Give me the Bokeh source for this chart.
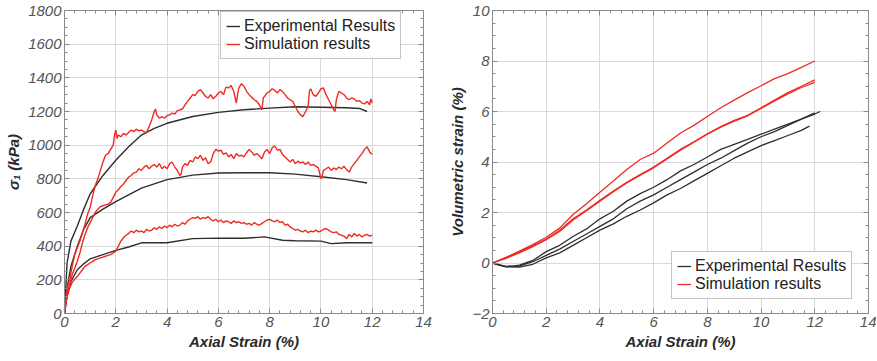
from bokeh.plotting import figure
from bokeh.layouts import row
from bokeh.models import LinearAxis, Legend, LegendItem, FixedTicker
from bokeh.embed import file_html
from bokeh.resources import INLINE

# ---------------- Left chart data: sigma1 vs axial strain ----------------
exp_top_x = [0, 0.1, 0.25, 0.5, 0.75, 1.0, 1.5, 2.0, 2.5, 3, 3.5, 4, 5, 6, 7, 8, 9, 10, 11, 11.5, 11.8]
exp_top_y = [0, 300, 430, 520, 620, 710, 820, 910, 990, 1060, 1100, 1130, 1170, 1195, 1210, 1220, 1228, 1225, 1222, 1218, 1200]

exp_mid_x = [0, 0.1, 0.25, 0.5, 0.75, 1.0, 1.5, 2, 3, 4, 5, 6, 7, 8, 9, 10, 11, 11.8]
exp_mid_y = [0, 150, 280, 400, 500, 570, 620, 665, 745, 795, 822, 835, 836, 836, 828, 812, 795, 775]

exp_low_x = [0, 0.1, 0.25, 0.5, 0.75, 1.0, 1.5, 2, 2.5, 3, 4, 5, 6, 7, 7.8, 8.5, 9, 10, 10.4, 11, 12]
exp_low_y = [0, 110, 190, 260, 295, 325, 350, 375, 395, 420, 420, 445, 448, 447, 455, 435, 432, 430, 415, 420, 420]

sim_top_x = [0, 0.05, 0.1, 0.2, 0.3, 0.4, 0.5, 0.6, 0.7, 0.8, 0.9, 1.0, 1.1, 1.2, 1.3, 1.4, 1.5, 1.6, 1.7, 1.8,
             1.9, 1.95, 2.0, 2.05, 2.1, 2.2, 2.3, 2.4, 2.5, 2.6, 2.7, 2.8, 2.9, 3.0, 3.1, 3.2, 3.3, 3.4, 3.5, 3.55,
             3.6, 3.7, 3.8, 3.9, 4.0, 4.1, 4.2, 4.3, 4.4, 4.5, 4.6, 4.7, 4.8, 4.9, 5.0, 5.1, 5.2, 5.3, 5.4, 5.5,
             5.6, 5.7, 5.8, 5.9, 6.0, 6.1, 6.2, 6.3, 6.4, 6.5, 6.6, 6.7, 6.75, 6.8, 6.9, 7.0, 7.1, 7.2, 7.3, 7.4,
             7.5, 7.6, 7.7, 7.75, 7.8, 7.9, 8.0, 8.1, 8.2, 8.3, 8.4, 8.5, 8.6, 8.7, 8.8, 8.9, 9.0, 9.1, 9.2, 9.3,
             9.4, 9.5, 9.55, 9.6, 9.7, 9.8, 9.9, 10.0, 10.1, 10.2, 10.3, 10.4, 10.5, 10.55, 10.6, 10.7, 10.8, 10.9,
             11.0, 11.1, 11.2, 11.3, 11.4, 11.5, 11.6, 11.7, 11.8, 11.9, 11.95, 12.0]
sim_top_y = [0, 90, 150, 200, 280, 350, 390, 430, 480, 530, 590, 630, 700, 760, 800, 850, 900, 940, 950, 975,
             1000, 1060, 1090, 1040, 1060, 1050, 1070, 1060, 1075, 1090, 1080, 1095, 1085, 1090, 1080, 1075, 1110, 1150, 1200, 1215,
             1180, 1160, 1170, 1160, 1175, 1180, 1190, 1185, 1205, 1210, 1215, 1240, 1260, 1280, 1300, 1295, 1320, 1330, 1310, 1290,
             1280, 1300, 1275, 1290, 1310, 1320, 1300, 1345, 1340, 1355, 1320, 1250, 1300, 1340, 1365, 1350, 1320, 1300, 1285, 1270,
             1260, 1240, 1210, 1280, 1290, 1310, 1320, 1335, 1325, 1310, 1330, 1320, 1300, 1280, 1270, 1260, 1230, 1200, 1180, 1170,
             1200, 1230, 1320, 1335, 1300, 1290, 1310, 1335, 1340, 1300, 1270, 1240, 1210, 1200, 1270, 1320, 1310, 1300,
             1280, 1270, 1280, 1275, 1260, 1265, 1250, 1245, 1260, 1240, 1275, 1250]

sim_mid_x = [0, 0.1, 0.2, 0.3, 0.4, 0.5, 0.6, 0.7, 0.8, 0.9, 1.0, 1.1, 1.2, 1.3, 1.4, 1.5, 1.6, 1.7, 1.8, 1.9,
             2.0, 2.1, 2.2, 2.3, 2.4, 2.5, 2.6, 2.7, 2.8, 2.9, 3.0, 3.1, 3.2, 3.3, 3.4, 3.5, 3.6, 3.7, 3.8, 3.9,
             4.0, 4.1, 4.2, 4.3, 4.4, 4.5, 4.55, 4.6, 4.7, 4.8, 4.9, 5.0, 5.1, 5.2, 5.3, 5.4, 5.5, 5.6, 5.7, 5.8,
             5.9, 6.0, 6.1, 6.2, 6.3, 6.4, 6.5, 6.6, 6.7, 6.8, 6.9, 7.0, 7.1, 7.2, 7.3, 7.4, 7.5, 7.6, 7.7, 7.8,
             7.9, 8.0, 8.1, 8.2, 8.3, 8.4, 8.5, 8.6, 8.7, 8.8, 8.9, 9.0, 9.1, 9.2, 9.3, 9.4, 9.5, 9.6, 9.7, 9.8,
             9.9, 10.0, 10.05, 10.1, 10.2, 10.3, 10.4, 10.5, 10.6, 10.7, 10.8, 10.9, 11.0, 11.1, 11.2, 11.3, 11.4, 11.5,
             11.6, 11.7, 11.8, 11.9, 12.0]
sim_mid_y = [0, 100, 170, 230, 270, 310, 360, 420, 470, 510, 540, 570, 600, 620, 635, 640, 645, 650, 660, 690,
             720, 735, 755, 770, 790, 810, 820, 835, 840, 860, 850, 870, 880, 860, 875, 885, 870, 890, 860, 875,
             860, 890, 900, 870, 850, 820, 830, 870, 890, 880, 910, 900, 930, 920, 940, 910, 925, 890, 900, 950,
             975, 965, 970, 945, 955, 930, 945, 920, 950, 935, 940, 930, 955, 975, 960, 940, 950, 935, 920, 960,
             975, 950, 985, 995, 970, 975, 945, 930, 915, 900, 915, 890, 905, 895, 900, 885, 900, 880, 885, 875,
             865, 800, 820, 850, 860, 870, 850, 865, 855, 870, 860, 875, 855, 840, 870, 890, 910, 930,
             950, 975, 990, 960, 945]

sim_low_x = [0, 0.05, 0.1, 0.2, 0.3, 0.4, 0.5, 0.6, 0.7, 0.8, 0.9, 1.0, 1.1, 1.2, 1.3, 1.4, 1.5, 1.6, 1.7, 1.8,
             1.9, 2.0, 2.1, 2.2, 2.3, 2.4, 2.5, 2.6, 2.7, 2.8, 2.9, 3.0, 3.1, 3.2, 3.3, 3.4, 3.5, 3.6, 3.7, 3.8,
             3.9, 4.0, 4.1, 4.2, 4.3, 4.4, 4.5, 4.6, 4.7, 4.8, 4.9, 5.0, 5.1, 5.2, 5.3, 5.4, 5.5, 5.6, 5.7, 5.8,
             5.9, 6.0, 6.1, 6.2, 6.3, 6.4, 6.5, 6.6, 6.7, 6.8, 6.9, 7.0, 7.1, 7.2, 7.3, 7.4, 7.5, 7.6, 7.7, 7.8,
             7.9, 8.0, 8.1, 8.2, 8.3, 8.4, 8.5, 8.6, 8.7, 8.8, 8.9, 9.0, 9.1, 9.2, 9.3, 9.4, 9.5, 9.6, 9.7, 9.8,
             9.9, 10.0, 10.1, 10.2, 10.3, 10.4, 10.5, 10.6, 10.7, 10.8, 10.9, 11.0, 11.1, 11.2, 11.3, 11.4, 11.5, 11.6,
             11.7, 11.8, 11.9, 12.0]
sim_low_y = [0, 60, 100, 150, 185, 205, 220, 240, 260, 280, 290, 300, 310, 320, 325, 330, 335, 340, 345, 350,
             360, 370, 400, 430, 450, 465, 475, 490, 480, 495, 485, 490, 480, 500, 490, 495, 510, 500, 515, 505,
             520, 510, 525, 515, 530, 520, 525, 540, 530, 550, 560, 570, 565, 575, 560, 570, 565, 575, 560, 550,
             560, 545, 555, 540, 550, 545, 535, 550, 540, 545, 535, 540, 530, 535, 525, 540, 530, 525, 535, 545,
             555, 560, 550, 545, 555, 540, 545, 525, 530, 515, 505, 495, 500, 490, 485, 495, 480, 490, 485, 495,
             485, 490, 500, 505, 495, 485, 480, 485, 470, 465, 460, 445, 470, 455, 475, 460, 470, 455,
             465, 470, 460, 465]

# ---------------- Right chart data: volumetric strain vs axial strain ----------------
vs_x = [0, 0.5, 1, 1.5, 2, 2.5, 3, 3.5, 4, 4.5, 5, 5.5, 6, 6.5, 7, 7.5, 8, 8.5, 9, 9.5, 10, 10.5, 11, 11.5, 12]
vs_sim_top = [0, 0.22, 0.47, 0.73, 1.02, 1.38, 1.92, 2.35, 2.8, 3.25, 3.7, 4.1, 4.35, 4.75, 5.15, 5.45, 5.8, 6.15,
              6.45, 6.75, 7.02, 7.3, 7.5, 7.75, 8.0]
vs_sim_mid1 = [0, 0.2, 0.43, 0.68, 0.95, 1.3, 1.75, 2.1, 2.48, 2.85, 3.2, 3.5, 3.8, 4.15, 4.5, 4.8, 5.12, 5.4,
               5.65, 5.85, 6.15, 6.45, 6.75, 7.0, 7.25]
vs_sim_mid2 = [0, 0.18, 0.4, 0.65, 0.92, 1.25, 1.7, 2.07, 2.45, 2.82, 3.17, 3.48, 3.77, 4.12, 4.47, 4.78, 5.1, 5.38,
               5.62, 5.83, 6.12, 6.42, 6.7, 6.95, 7.15]

vs_exp_top_x = [0, 0.25, 0.5, 0.75, 1, 1.5, 2, 2.5, 3, 3.5, 4, 4.5, 5, 5.5, 6, 6.5, 7, 7.5, 8, 8.5, 9, 9.5, 10,
                10.5, 11, 11.5, 12, 12.2]
vs_exp_top_y = [0, -0.08, -0.13, -0.12, -0.08, 0.1, 0.45, 0.7, 1.05, 1.35, 1.75, 2.05, 2.45, 2.75, 3.0, 3.3, 3.65,
                3.9, 4.2, 4.5, 4.7, 4.9, 5.1, 5.3, 5.5, 5.7, 5.9, 6.0]
vs_exp_mid_x = [0, 0.5, 1, 1.5, 2, 2.5, 3, 3.5, 4, 4.5, 5, 5.5, 6, 6.5, 7, 7.5, 8, 8.5, 9, 9.5, 10, 10.5, 11, 11.5, 12]
vs_exp_mid_y = [0, -0.14, -0.12, 0.05, 0.3, 0.55, 0.85, 1.15, 1.45, 1.75, 2.15, 2.45, 2.7, 3.0, 3.3, 3.6, 3.9, 4.15,
                4.45, 4.75, 5.0, 5.2, 5.45, 5.7, 5.95]
vs_exp_low_x = [0, 0.5, 1, 1.5, 2, 2.5, 3, 3.5, 4, 4.5, 5, 5.5, 6, 6.5, 7, 7.5, 8, 8.5, 9, 9.5, 10, 10.5, 11, 11.5, 11.8]
vs_exp_low_y = [0, -0.15, -0.16, -0.05, 0.2, 0.4, 0.7, 1.0, 1.3, 1.55, 1.85, 2.1, 2.38, 2.7, 2.95, 3.25, 3.55, 3.85,
                4.15, 4.4, 4.65, 4.85, 5.05, 5.25, 5.42]

x_ticks = [0, 2, 4, 6, 8, 10, 12, 14]
left_y_ticks = [0, 200, 400, 600, 800, 1000, 1200, 1400, 1600, 1800]
right_y_ticks = [-2, 0, 2, 4, 6, 8, 10]

BLACK = "#2e2e2e"
RED = "#ee2a24"
FONT = "Liberation Sans"
FRAME = "#8a8a8a"


def style(p, yticks, minor_y):
    p.xgrid.ticker = FixedTicker(ticks=x_ticks)
    p.ygrid.ticker = FixedTicker(ticks=yticks)
    p.grid.grid_line_color = "#d9d9d9"
    p.grid.grid_line_width = 1
    p.outline_line_color = FRAME
    p.outline_line_width = 1
    p.background_fill_color = "white"
    p.border_fill_color = "white"
    xminor = [x_ticks[0] + i * 0.4 for i in range(int((x_ticks[-1] - x_ticks[0]) / 0.4) + 1)]
    ystep = (yticks[1] - yticks[0]) / minor_y
    n = int(round((yticks[-1] - yticks[0]) / ystep))
    yminor = [yticks[0] + i * ystep for i in range(n + 1)]
    for ax, ticks, minor in ((p.xaxis[0], x_ticks, xminor), (p.yaxis[0], yticks, yminor)):
        ax.ticker = FixedTicker(ticks=ticks, minor_ticks=minor)
        ax.major_tick_in = 5
        ax.major_tick_out = 0
        ax.minor_tick_in = 3
        ax.minor_tick_out = 0
        ax.axis_line_color = FRAME
        ax.major_tick_line_color = FRAME
        ax.minor_tick_line_color = FRAME
        ax.major_label_text_font = FONT
        ax.major_label_text_font_style = "italic"
        ax.major_label_text_font_size = "15px"
        ax.major_label_text_color = "#555555"
        ax.major_label_standoff = 3
        ax.axis_label_text_font = FONT
        ax.axis_label_text_font_style = "bold italic"
        ax.axis_label_text_font_size = "15px"
        ax.axis_label_text_color = "#2a2a2a"
        ax.axis_label_standoff = 3
    # mirror axes on top and right with inward ticks only, no labels
    top = LinearAxis(ticker=FixedTicker(ticks=x_ticks, minor_ticks=xminor))
    right = LinearAxis(ticker=FixedTicker(ticks=yticks, minor_ticks=yminor))
    for ax in (top, right):
        ax.major_tick_in = 5
        ax.major_tick_out = 0
        ax.minor_tick_in = 3
        ax.minor_tick_out = 0
        ax.axis_line_color = FRAME
        ax.major_tick_line_color = FRAME
        ax.minor_tick_line_color = FRAME
        ax.major_label_text_color = None
        ax.major_label_standoff = 0
    p.add_layout(top, "above")
    p.add_layout(right, "right")


# ---------------- Left figure ----------------
p1 = figure(width=438, height=361, x_range=(0, 14), y_range=(0, 1800),
            output_backend="svg", toolbar_location=None,
            min_border_left=64, min_border_right=15, min_border_top=10, min_border_bottom=48)
p1.xaxis.axis_label = "Axial Strain (%)"
p1.yaxis.axis_label = "σ₁ (kPa)"
style(p1, left_y_ticks, 4)

e1 = p1.line(exp_top_x, exp_top_y, line_color=BLACK, line_width=1.4)
p1.line(exp_mid_x, exp_mid_y, line_color=BLACK, line_width=1.4)
p1.line(exp_low_x, exp_low_y, line_color=BLACK, line_width=1.4)
s1 = p1.line(sim_top_x, sim_top_y, line_color=RED, line_width=1.4)
p1.line(sim_mid_x, sim_mid_y, line_color=RED, line_width=1.4)
p1.line(sim_low_x, sim_low_y, line_color=RED, line_width=1.4)

# ---------------- Right figure ----------------
p2 = figure(width=438, height=361, x_range=(0, 14), y_range=(-2, 10),
            output_backend="svg", toolbar_location=None,
            min_border_left=54, min_border_right=8, min_border_top=10, min_border_bottom=48)
p2.xaxis.axis_label = "Axial Strain (%)"
p2.yaxis.axis_label = "Volumetric strain (%)"
style(p2, right_y_ticks, 4)

s2 = p2.line(vs_x, vs_sim_top, line_color=RED, line_width=1.3)
p2.line(vs_x, vs_sim_mid1, line_color=RED, line_width=1.3)
p2.line(vs_x, vs_sim_mid2, line_color=RED, line_width=1.3)
e2 = p2.line(vs_exp_top_x, vs_exp_top_y, line_color=BLACK, line_width=1.3)
p2.line(vs_exp_mid_x, vs_exp_mid_y, line_color=BLACK, line_width=1.3)
p2.line(vs_exp_low_x, vs_exp_low_y, line_color=BLACK, line_width=1.3)


def make_legend(e, s, loc):
    lg = Legend(items=[LegendItem(label="Experimental Results", renderers=[e]),
                       LegendItem(label="Simulation results", renderers=[s])],
                location=loc)
    lg.label_text_font = FONT
    lg.label_text_font_size = "16px"
    lg.label_text_color = "#222222"
    lg.glyph_width = 14
    lg.glyph_height = 18
    lg.label_height = 18
    lg.label_standoff = 4
    lg.padding = 5
    lg.spacing = 0
    lg.margin = 0
    lg.border_line_color = FRAME
    lg.border_line_width = 1
    lg.background_fill_alpha = 1
    return lg


p1.add_layout(make_legend(e1, s1, (156, 254)), "center")
p2.add_layout(make_legend(e2, s2, (179, 14)), "center")

layout = row(p1, p2)
open("out.html", "w").write(file_html(layout, INLINE))
